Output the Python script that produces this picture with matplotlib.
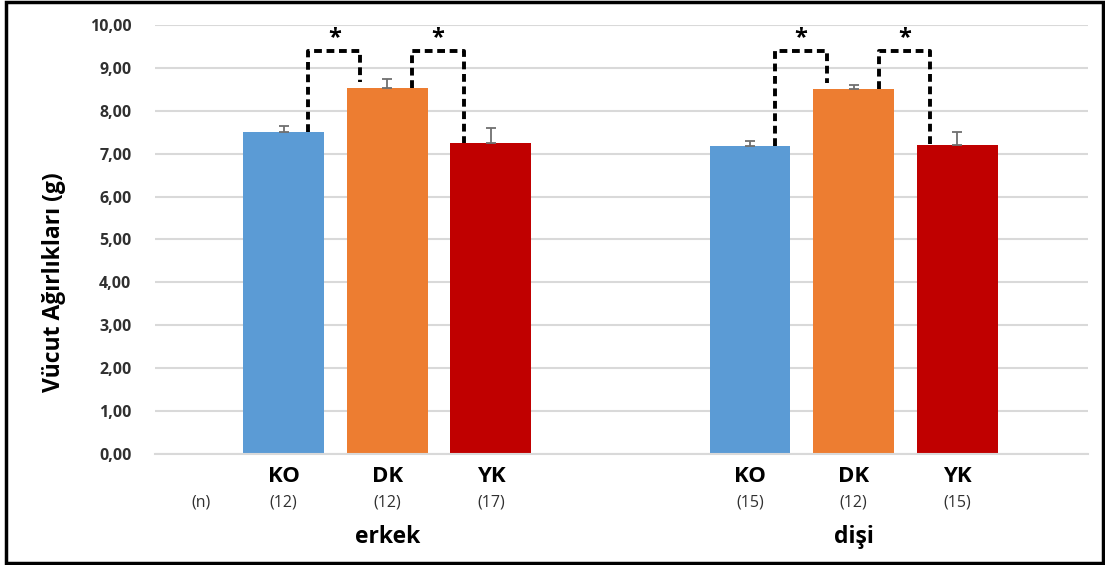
import numpy as np
import matplotlib.pyplot as plt
from matplotlib.patches import Rectangle

# body weight per group (g), upper SEM
groups = ["erkek", "dişi"]
labels = ["KO", "DK", "YK"]
means_erkek = [7.50, 8.52, 7.25]
err_erkek = [0.14, 0.23, 0.35]
means_disi = [7.17, 8.50, 7.20]
err_disi = [0.12, 0.09, 0.30]
n_erkek = [12, 12, 17]
n_disi = [15, 12, 15]
colors = ["#5b9bd5", "#ed7d31", "#c00000"]

plt.rcParams['font.family'] = ['Open Sans', 'DejaVu Sans']

fig = plt.figure(figsize=(11.05, 5.65), dpi=100)
ax = fig.add_axes([155/1105, 1-454/565, (1088-155)/1105, (454-25)/565])

x_erkek = np.arange(3)
x_disi = np.arange(3) + 4.5
width = 0.78

for xs, means, errs in [(x_erkek, means_erkek, err_erkek), (x_disi, means_disi, err_disi)]:
    ax.bar(xs, means, width=width, color=colors, zorder=2)
    ax.errorbar(xs, means, yerr=[np.zeros(3), errs], fmt='none', ecolor='#6f6f6f',
                elinewidth=1.3, capsize=3.5, capthick=1.3, zorder=3)

ax.set_ylim(0, 10)
ax.set_xlim(-1.24, 7.76)
ax.set_yticks(np.arange(0, 11, 1))
ax.set_yticklabels(["{:.2f}".format(v).replace(".", ",") for v in range(11)],
                   fontsize=11.5, fontweight='bold', color='#303030')
ax.tick_params(axis='y', length=0, pad=17)
ax.tick_params(axis='x', length=0)
ax.set_xticks([])
ax.grid(axis='y', color='#d9d9d9', linewidth=1.5, zorder=0)
for s in ['top', 'right', 'left']:
    ax.spines[s].set_visible(False)
ax.spines['bottom'].set_color('#d9d9d9')
ax.spines['bottom'].set_linewidth(1.5)

ax.set_ylabel("Vücut Ağırlıkları (g)", fontsize=16.5, fontweight='bold')
ax.yaxis.set_label_coords(-0.095, 0.40)

# significance brackets between neighbouring bars
top = 9.4
def bracket(xa, xb, ya, yb):
    ax.plot([xa, xa, xb, xb], [ya, top, top, yb], color='black', lw=2.8,
            ls=(0, (2.0, 1.2)), zorder=4, clip_on=False)
    ax.text((xa + xb) / 2, top + 0.02, "*", ha='center', va='bottom',
            fontsize=17, fontweight='bold')

for xs, means in [(x_erkek, means_erkek), (x_disi, means_disi)]:
    bracket(xs[0] + 0.24, xs[1] - 0.26, means[0], means[1] + 0.15)
    bracket(xs[1] + 0.24, xs[2] - 0.26, means[1], means[2])

# category labels, group sizes and sex labels below the axis
trans = ax.get_xaxis_transform()
for xs, ns, g in [(x_erkek, n_erkek, groups[0]), (x_disi, n_disi, groups[1])]:
    for x, lab, n in zip(xs, labels, ns):
        ax.text(x, -0.052, lab, transform=trans, ha='center', va='center',
                fontsize=16, fontweight='bold')
        ax.text(x, -0.114, "({})".format(n), transform=trans, ha='center',
                va='center', fontsize=11.5, color='#303030')
    ax.text(xs[1], -0.193, g, transform=trans, ha='center', va='center',
            fontsize=16.5, fontweight='bold')
ax.text(-0.8, -0.112, "(n)", transform=trans, ha='center', va='center',
        fontsize=11.5, color='#303030')

# outer frame
fig.patches.append(Rectangle((6/1105, 1-563/565), 1097/1105, 561/565,
                             transform=fig.transFigure, fill=False,
                             ec='black', lw=2.5))

fig.savefig("out.png", dpi=100)
